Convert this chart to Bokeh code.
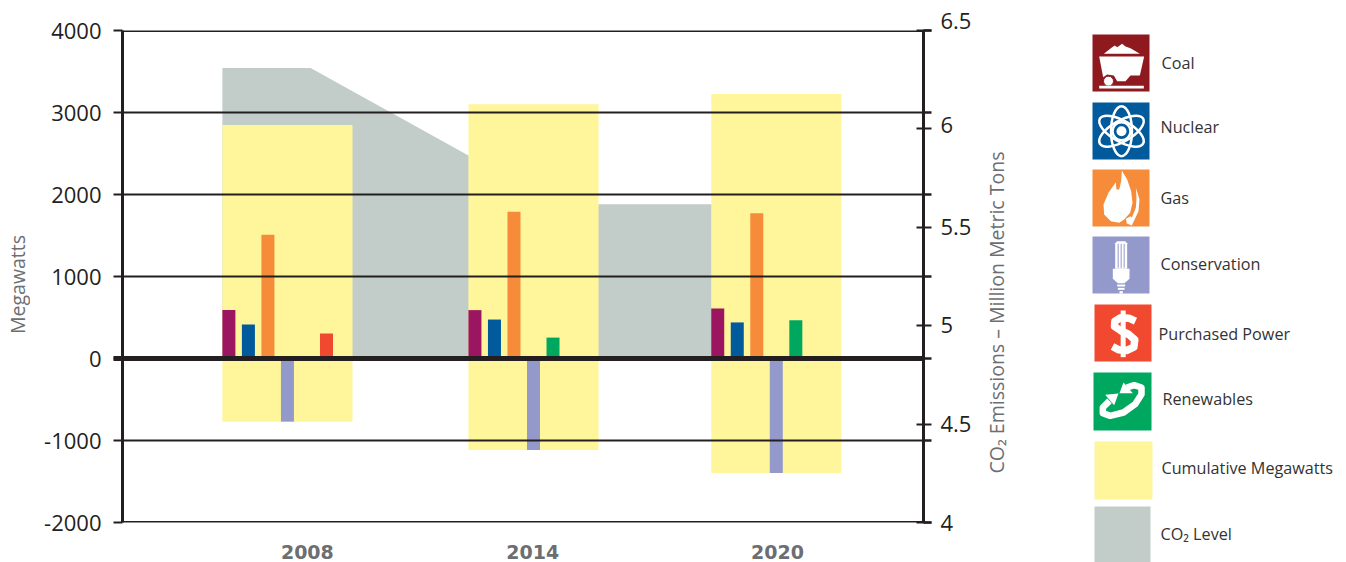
from bokeh.embed import file_html
from bokeh.resources import INLINE
from bokeh.plotting import figure
from bokeh.layouts import row
from bokeh.models import Arrow, FixedTicker, LinearAxis, Range1d
from bokeh.core.properties import value

# ---- data ----
years = [2008, 2014, 2020]
group_centers = [2007.95, 2014.0, 2019.97]
cumulative_top = [2847, 3100, 3225]
cumulative_bottom = [-770, -1115, -1395]
coal = [590, 590, 610]
nuclear = [415, 475, 440]
gas = [1510, 1790, 1770]
conservation = [-770, -1115, -1395]
renewables = [0, 255, 465]
purchased = [305, 0, 0]
co2_x = [2006.35, 2008.52, 2012.4, 2014.6, 2020.0]
co2_y = [6.31, 6.31, 5.865, 5.617, 5.617]
co2_base = 4.833
mw_ticks = [-2000, -1000, 0, 1000, 2000, 3000, 4000]
co2_ticks = [4, 4.5, 5, 5.5, 6, 6.5]
co2_label_nudge = [0, 0, 0.005, 0, 0.02, 0.05]
co2_labels = ["4", "4.5", "5", "5.5", "6", "6.5"]
x_labels = ["2008", "2014", "2020"]
x_label_pos = [2008.44, 2013.98, 2020.0]
legend_names = ["Coal", "Nuclear", "Gas", "Conservation", "Purchased Power",
                "Renewables", "Cumulative Megawatts", "CO\u2082 Level"]
left_title = "Megawatts"
right_title = "CO\u2082 Emissions \u2013 Million Metric Tons"

# ---- style ----
INK = "#231f20"
GREY = "#6d6e71"
COAL = "#9c1560"
COAL_ICON = "#8e1a20"
NUCLEAR = "#005a9c"
GAS = "#f68b3a"
CONS = "#9499cc"
PURCH = "#f1492f"
RENEW = "#00a85f"
YELLOW = "#fff69c"
CO2 = "#c2cdca"
FONT = "Open Sans"
PX_PER_YEAR = 40.67
X0 = 2014 - (533 - 122) / PX_PER_YEAR
X1 = 2014 + (923 - 533) / PX_PER_YEAR
BAR_W = 0.32
SLOT = 0.48

# ---- narrow panel for the left title ----
r = figure(width=30, height=562, x_range=Range1d(0, 30), y_range=Range1d(562, 0),
           output_backend="svg", toolbar_location=None, min_border=0,
           x_axis_type=None, y_axis_type=None, outline_line_color=None)
r.frame_align = False
r.xgrid.visible = False
r.ygrid.visible = False
r.text([17], [284], text=[left_title], angle=90, angle_units="deg", text_font=value(FONT),
       text_font_size="19.5px", text_color=GREY,
       text_align="center", text_baseline="middle")

# ---- main chart ----
p = figure(width=909, height=562, x_range=Range1d(X0, X1), y_range=Range1d(-2000, 4000),
           output_backend="svg", toolbar_location=None,
           min_border_left=92, min_border_right=16, min_border_top=30, min_border_bottom=40,
           outline_line_color=None, background_fill_color="white")
p.frame_align = False
p.extra_y_ranges = {"co2": Range1d(4, 6.5)}
p.xgrid.visible = False
p.ygrid.visible = False

p.varea(co2_x, [co2_base] * len(co2_x), co2_y, y_range_name="co2", fill_color=CO2)
p.vbar(group_centers, width=3.2, top=cumulative_top, bottom=cumulative_bottom, fill_color=YELLOW, line_color=None)

def grid_line(v, w, level="glyph"):
    a = Arrow(end=None, x_start=X0, x_end=X1, y_start=v, y_end=v,
              line_color=INK, line_width=w, level=level)
    p.add_layout(a)

for v in mw_ticks:
    if v != 0:
        grid_line(v, 3 if v in (-2000, 4000) else 2)

series = [(coal, COAL, -3), (nuclear, NUCLEAR, -2), (gas, GAS, -1),
          (conservation, CONS, 0), (renewables, RENEW, 1), (purchased, PURCH, 2)]
for vals, col, slot in series:
    xs = [c + slot * SLOT for c, v in zip(group_centers, vals) if v != 0]
    tops = [v for v in vals if v != 0]
    p.vbar(xs, width=BAR_W, top=tops, bottom=0, fill_color=col, line_color=None)

grid_line(0, 5, "overlay")

# left axis; the zero line continues as a heavy minor tick
ya = p.yaxis[0]
ya.ticker = FixedTicker(ticks=mw_ticks, minor_ticks=[0])
ya.major_tick_out = 9
ya.major_tick_in = 0
ya.minor_tick_out = 9
ya.minor_tick_in = 0
ya.minor_tick_line_color = INK
ya.minor_tick_line_width = 5
ya.major_tick_line_color = INK
ya.major_tick_line_width = 2
ya.axis_line_color = INK
ya.axis_line_width = 3
ya.major_label_standoff = 12
ya.major_label_text_font = FONT
ya.major_label_text_font_size = "22px"
ya.major_label_text_color = INK
ya.major_label_overrides = {v: str(v) for v in mw_ticks}

# bottom axis
xa = p.xaxis[0]
xa.ticker = FixedTicker(ticks=x_label_pos)
xa.major_label_overrides = dict(zip(x_label_pos, x_labels))
xa.axis_line_color = None
xa.major_tick_line_color = None
xa.minor_tick_line_color = None
xa.major_tick_out = 0
xa.major_tick_in = 0
xa.major_label_standoff = 22
xa.major_label_text_font = "DejaVu Sans"
xa.major_label_text_font_style = "bold"
xa.major_label_text_font_size = "19px"
xa.major_label_text_color = GREY

# right axis: major ticks are the CO2 scale, minor ticks continue the gridlines
mw_as_co2 = [4 + (v + 2000) * 2.5 / 6000 for v in mw_ticks]
ra = LinearAxis(y_range_name="co2", ticker=FixedTicker(ticks=co2_ticks, minor_ticks=mw_as_co2))
ra.major_tick_in = 7
ra.major_tick_out = 8
ra.major_tick_line_width = 2
ra.major_tick_line_color = INK
ra.minor_tick_in = 0
ra.minor_tick_out = 8
ra.minor_tick_line_width = 2.5
ra.minor_tick_line_color = INK
ra.axis_line_color = INK
ra.axis_line_width = 3
ra.major_label_standoff = 0
ra.major_label_overrides = {t: "" for t in co2_ticks}
p.add_layout(ra, "right")

# ---- right panel: CO2 tick labels, its title, the legend (x and y in page pixels) ----
q = figure(width=407, height=562, x_range=Range1d(939, 1346), y_range=Range1d(562, 0),
           output_backend="svg", toolbar_location=None, min_border=0,
           x_axis_type=None, y_axis_type=None, outline_line_color=None)
q.frame_align = False
q.xgrid.visible = False
q.ygrid.visible = False
q.extra_y_ranges = {"co2": Range1d(4 - 40 / 196.8, 6.5 + 30 / 196.8)}

q.text([940] * len(co2_ticks), [t + n for t, n in zip(co2_ticks, co2_label_nudge)], text=co2_labels,
       y_range_name="co2", text_font=value(FONT), text_font_size="22px", text_color=INK,
       text_align="left", text_baseline="middle")
q.text([996], [312], text=[right_title], angle=90, angle_units="deg", text_font=value(FONT),
       text_font_size="19.5px", text_color=GREY,
       text_align="center", text_baseline="middle")

boxes = [(1092, 34, 57, COAL_ICON), (1092, 102, 57, NUCLEAR), (1092, 169, 57, GAS), (1092, 236, 57, CONS),
         (1094, 304, 57, PURCH), (1093, 372, 58, RENEW), (1094, 441, 58, YELLOW), (1094, 506, 56, CO2)]
for bx, by, s, c in boxes:
    q.quad(left=bx, right=bx + s, top=by, bottom=by + s, fill_color=c, line_color=None)

def z(ox, oy, pts):
    return [ox + a / 3 for a, b in pts], [oy + b / 3 for a, b in pts]

def z1(pts):
    return z(1080, 20, pts)

def z2(pts):
    return z(1080, 290, pts)

def white(xy):
    q.patch(xy[0], xy[1], fill_color="white", line_color=None)

# coal cart
white(z1([(70, 100), (95, 80), (103, 75), (110, 80), (125, 70), (135, 78), (150, 83), (178, 100)]))
white(z1([(56, 108), (191, 108), (178, 165), (150, 165), (135, 182), (110, 182), (100, 165), (80, 162), (68, 170)]))
q.scatter([1080 + 84 / 3], [20 + 182 / 3], size=10, fill_color="white", line_color=COAL_ICON, line_width=1)
white(z1([(56, 196), (190, 196), (190, 204), (56, 204)]))

# atom
acx, acy = 1092 + 87 / 3, 102 + 86 / 3
for ang in (0, 60, 120):
    q.ellipse([acx], [acy], width=21, height=50, angle=ang, angle_units="deg",
              fill_color=None, line_color="white", line_width=2.5)
q.scatter([acx], [acy], size=18, fill_color=NUCLEAR, line_color="white", line_width=2.5)
q.scatter([acx], [acy], size=10, fill_color="white", line_color=None)

# flame
white(z(1092, 169, [(88, 3), (104, 30), (116, 65), (120, 100), (113, 130), (95, 150), (80, 160), (55, 155),
                    (35, 135), (33, 105), (48, 70), (70, 38), (72, 60), (80, 60), (86, 35)]))
white(z(1092, 169, [(130, 55), (141, 90), (138, 125), (118, 168), (103, 162), (100, 148), (115, 140),
                    (118, 145), (130, 115), (132, 85)]))

# bulb
white(z1([(104, 668), (110, 662), (134, 662), (140, 668), (140, 745), (104, 745)]))
white(z1([(97, 745), (147, 745), (147, 775), (132, 788), (112, 788), (97, 775)]))
white(z1([(110, 792), (134, 792), (134, 798), (110, 798)]))
white(z1([(112, 802), (132, 802), (132, 808), (112, 808)]))
white(z1([(117, 812), (127, 812), (127, 819), (117, 819)]))
for lx in (113, 122, 131):
    xs, ys = z1([(lx, 670), (lx, 742)])
    q.line(xs, ys, line_color=CONS, line_width=1)

# dollar
xs, ys = z2([(165, 92), (145, 83), (120, 82), (103, 92), (102, 108), (120, 120), (145, 132), (163, 148),
             (160, 170), (138, 180), (115, 178), (96, 168)])
q.line(xs, ys, line_color="white", line_width=7.5, line_join="round")
xs, ys = z2([(128, 60), (128, 200)])
q.line(xs, ys, line_color="white", line_width=5)

# renewables swirl
xs, ys = z(1093, 372, [(48, 85), (28, 105), (28, 122), (50, 130), (90, 120), (125, 95), (144, 65), (144, 45), (122, 38), (100, 45)])
q.line(xs, ys, line_color="white", line_width=6.5, line_join="round")
white(z(1093, 372, [(35, 67), (75, 63), (62, 98)]))
white(z(1093, 372, [(90, 30), (78, 62), (118, 62)]))

legend_x = [1161, 1160, 1160, 1160, 1158, 1162, 1161, 1160]
legend_y = [62, 126, 197, 263, 333, 398, 467, 533]
q.text(legend_x, legend_y, text=legend_names, text_font=value(FONT), text_font_size="16.2px",
       text_color="#333333", text_align="left", text_baseline="middle")

layout = row(r, p, q, spacing=0)
open("out.html", "w").write(file_html(layout, INLINE))
